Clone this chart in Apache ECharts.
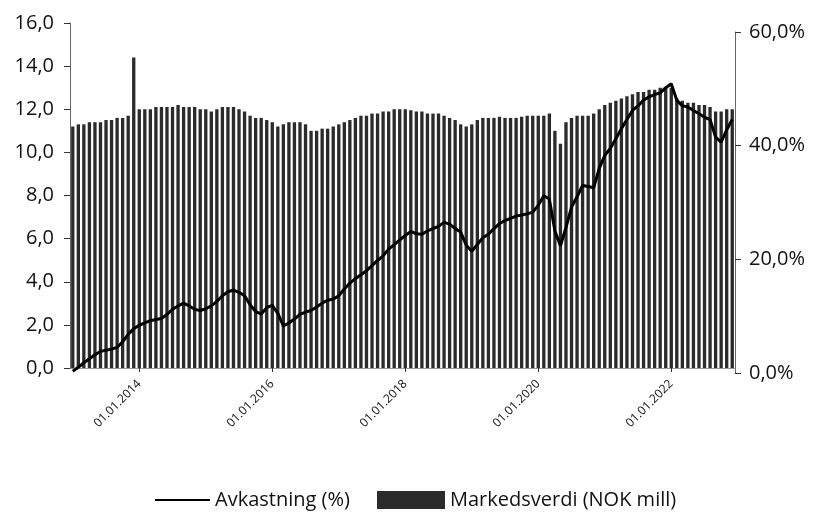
<!DOCTYPE html>
<html>
<head>
<meta charset="utf-8">
<script src="https://cdn.jsdelivr.net/npm/echarts@6/dist/echarts.min.js"></script>
<style>html,body{margin:0;padding:0;background:#fff}#c{width:819px;height:513px}</style>
</head>
<body>
<div id="c"></div>
<script>
// Monthly categories Jan 2013 - Dec 2022
const startYear = 2013;
const months = [];
for (let y = startYear; y <= 2022; y++) {
  for (let m = 1; m <= 12; m++) {
    months.push('01.' + (m < 10 ? '0' + m : m) + '.' + y);
  }
}
// Markedsverdi (NOK mill), left axis
const markedsverdi = [
  11.2,11.3,11.3,11.4,11.4,11.4,11.5,11.5,11.6,11.6,11.7,14.4,
  12.0,12.0,12.0,12.1,12.1,12.1,12.1,12.2,12.1,12.1,12.1,12.0,
  12.0,11.9,12.0,12.1,12.1,12.1,12.0,11.9,11.7,11.6,11.6,11.5,
  11.4,11.2,11.3,11.4,11.4,11.4,11.3,11.0,11.0,11.1,11.1,11.2,
  11.3,11.4,11.5,11.6,11.7,11.7,11.8,11.8,11.9,11.9,12.0,12.0,
  12.0,11.95,11.9,11.9,11.8,11.8,11.8,11.7,11.6,11.5,11.3,11.2,
  11.3,11.5,11.6,11.6,11.6,11.65,11.6,11.6,11.6,11.65,11.7,11.7,
  11.7,11.7,11.8,11.0,10.4,11.4,11.6,11.7,11.7,11.7,11.8,12.0,
  12.2,12.3,12.4,12.5,12.6,12.7,12.8,12.8,12.9,12.9,13.0,13.0,
  13.0,12.5,12.4,12.3,12.3,12.2,12.2,12.1,11.9,11.9,12.0,12.0
];
// Avkastning (%), right axis
const avkastning = [
  0.3,1.0,1.8,2.5,3.2,3.8,4.0,4.2,4.5,5.5,6.8,7.8,
  8.4,8.8,9.2,9.4,9.6,10.3,11.2,11.8,12.3,11.8,11.2,11.0,
  11.3,11.8,12.6,13.6,14.3,14.6,14.2,13.6,12.0,10.8,10.4,11.5,
  11.9,10.5,8.3,8.8,9.5,10.3,10.7,11.0,11.6,12.3,12.8,13.0,
  13.6,14.8,15.8,16.6,17.3,18.0,18.9,19.8,20.6,21.8,22.6,23.4,
  24.2,24.9,24.5,24.4,25.0,25.4,25.8,26.5,26.2,25.4,24.8,22.5,
  21.4,22.6,23.8,24.4,25.4,26.3,26.8,27.2,27.6,27.8,28.0,28.3,
  29.5,31.2,30.6,25.0,22.4,25.6,29.2,31.0,33.0,32.8,32.6,36.0,
  38.3,39.5,41.2,43.0,44.6,46.2,47.0,48.0,48.6,49.0,49.3,50.2,
  50.9,48.0,47.0,46.8,46.2,45.6,45.0,44.6,41.5,40.6,42.8,44.6
];
const leftTicks = { min: 0, max: 16, interval: 2 };
const rightTicks = { min: 0, max: 60, interval: 20 };

const chart = echarts.init(document.getElementById('c'), null, { renderer: 'canvas' });
const font = "'Open Sans', 'DejaVu Sans', sans-serif";
const showIdx = (i) => i % 24 === 12;
chart.setOption({
  animation: false,
  textStyle: { fontFamily: font, color: '#000' },
  grid: [
    { left: 70, right: 84, top: 23, bottom: 145 },
    { left: 70, right: 84, top: 32, bottom: 140 }
  ],
  legend: [
    {
      left: 150, top: 485,
      itemWidth: 55, itemHeight: 14,
      textStyle: { fontSize: 20, color: '#111', fontFamily: font },
      data: [{ name: 'Avkastning (%)', icon: 'path://M0,6 L55,6 L55,8 L0,8 Z' }]
    },
    {
      left: 372, top: 485,
      itemWidth: 68, itemHeight: 18,
      textStyle: { fontSize: 20, color: '#111', fontFamily: font },
      data: [{ name: 'Markedsverdi (NOK mill)', icon: 'rect' }]
    }
  ],
  xAxis: [
    {
      type: 'category',
      gridIndex: 0,
      data: months,
      boundaryGap: true,
      axisLine: { show: true, lineStyle: { color: '#999', width: 1 } },
      axisTick: { show: true, alignWithLabel: true, interval: showIdx, length: 4, lineStyle: { color: '#333' } },
      axisLabel: {
        interval: showIdx,
        rotate: 45,
        fontSize: 12,
        color: '#111',
        margin: 14,
        fontFamily: font
      }
    },
    {
      type: 'category',
      gridIndex: 1,
      data: months,
      boundaryGap: true,
      show: false
    }
  ],
  yAxis: [
    {
      type: 'value',
      gridIndex: 0,
      min: leftTicks.min, max: leftTicks.max, interval: leftTicks.interval,
      position: 'left',
      splitLine: { show: false },
      axisLine: { show: true, lineStyle: { color: '#666', width: 1 } },
      axisTick: { show: true, inside: false, length: 6, lineStyle: { color: '#333' } },
      axisLabel: { fontSize: 20, color: '#111', margin: 16, formatter: v => v.toFixed(1).replace('.', ',') }
    },
    {
      type: 'value',
      gridIndex: 1,
      min: rightTicks.min, max: rightTicks.max, interval: rightTicks.interval,
      position: 'right',
      splitLine: { show: false },
      axisLine: { show: true, lineStyle: { color: '#666', width: 1 } },
      axisTick: { show: true, length: 6, lineStyle: { color: '#333' } },
      axisLabel: { fontSize: 20, color: '#111', margin: 14, formatter: v => v.toFixed(1).replace('.', ',') + '%' }
    }
  ],
  series: [
    {
      name: 'Markedsverdi (NOK mill)',
      type: 'bar',
      xAxisIndex: 0,
      yAxisIndex: 0,
      data: markedsverdi,
      barCategoryGap: '40%',
      itemStyle: { color: '#2b2b2b' },
      z: 1
    },
    {
      name: 'Avkastning (%)',
      type: 'line',
      xAxisIndex: 1,
      yAxisIndex: 1,
      data: avkastning,
      symbol: 'none',
      lineStyle: { color: '#000', width: 3 },
      itemStyle: { color: '#000' },
      z: 3
    }
  ]
});
</script>
</body>
</html>
